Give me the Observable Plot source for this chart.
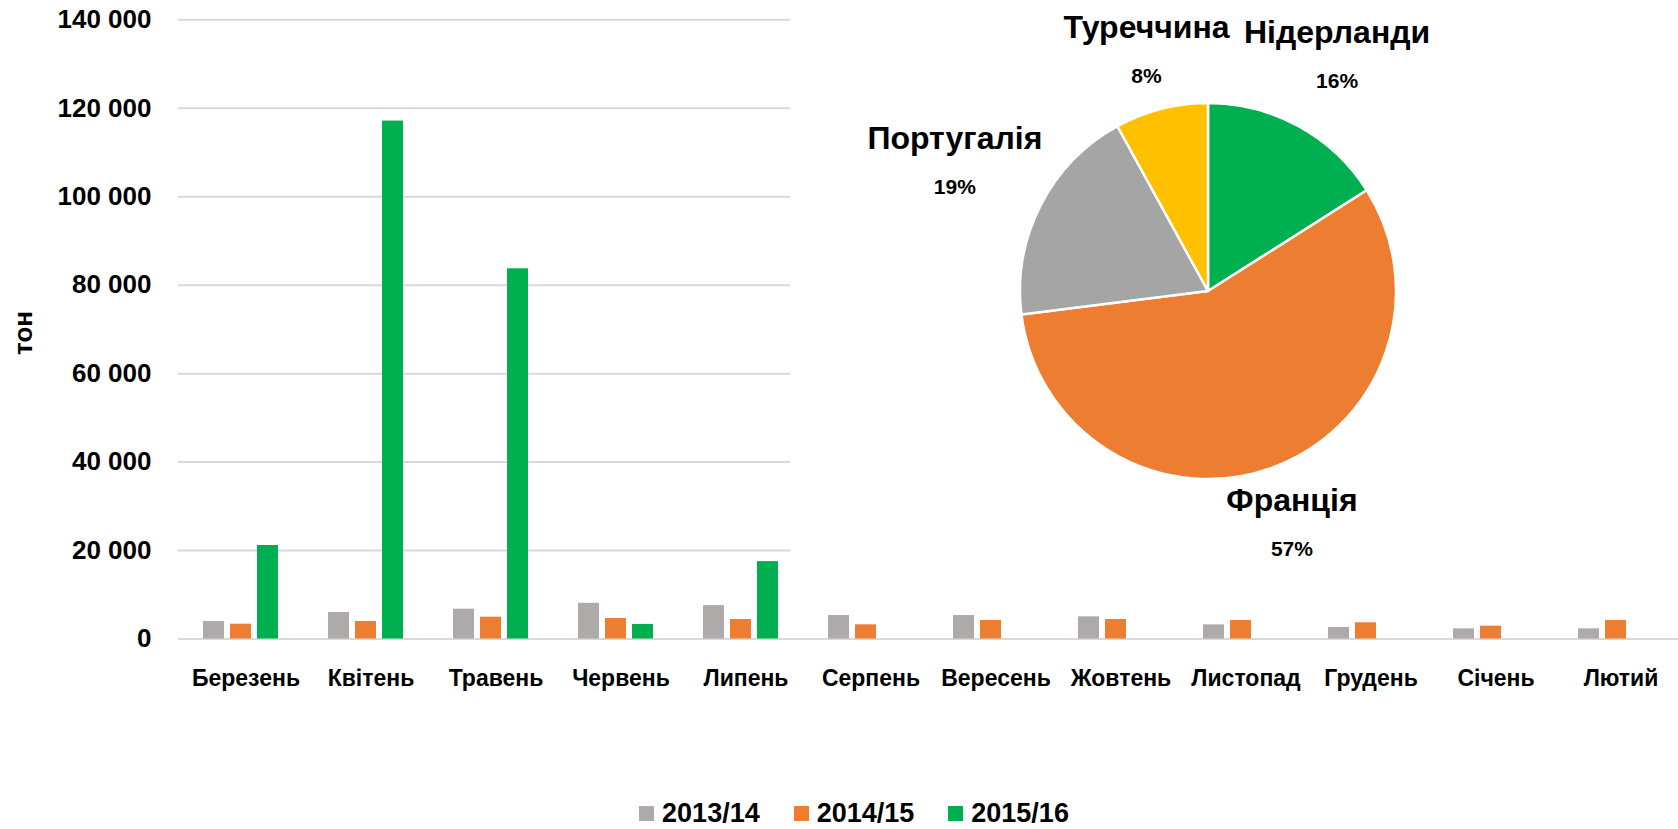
<!DOCTYPE html>
<html><head><meta charset="utf-8">
<script src="https://cdn.jsdelivr.net/npm/d3@7"></script>
<script src="https://cdn.jsdelivr.net/npm/@observablehq/plot@0.6"></script>
<style>
html,body{margin:0;padding:0;background:#fff;}
#wrap{position:relative;width:1678px;height:829px;overflow:hidden;font-family:"Liberation Sans",Arial,sans-serif;font-weight:bold;}
#pie{position:absolute;left:0;top:0;}
#legend{display:flex;justify-content:center;align-items:center;height:31px;font-size:27px;color:#000;padding-left:30px;}
.item{display:flex;align-items:center;margin:0 17px;}
.sw{width:15px;height:15px;margin-right:8px;}
</style></head><body><div id="wrap"></div>
<script>
const months = ["Березень","Квітень","Травень","Червень","Липень","Серпень","Вересень","Жовтень","Листопад","Грудень","Січень","Лютий"];
const series = ["2013/14","2014/15","2015/16"];
const v2013 = [3960, 5990, 6740, 8070, 7550, 5310, 5310, 5010, 3200, 2600, 2300, 2300];
const v2014 = [3350, 3960, 4930, 4620, 4400, 3200, 4180, 4400, 4180, 3660, 2900, 4180];
const v2015 = [21140, 117100, 83700, 3300, 17500];
const yTicks = [0, 20000, 40000, 60000, 80000, 100000, 120000, 140000];
const yLabel = "тон";
const countries = ["Нідерланди","Франція","Португалія","Туреччина"];
const shares = [16, 57, 19, 8];
const barColors = ["#AEAAAA","#ED7D31","#00B050"];
const pieColors = ["#00B050","#ED7D31","#A5A5A5","#FFC000"];

const rows = [];
[v2013, v2014, v2015].forEach((vals, i) => vals.forEach((v, j) => {
  if (v != null) rows.push({month: months[j], series: series[i], value: v});
}));

const fmt = d => d3.format(",")(d).replace(/,/g, " ");
const FONT = "'Liberation Sans', Arial, sans-serif";

const chart = Plot.plot({
  width: 1678, height: 798,
  marginLeft: 178, marginRight: 0, marginTop: 19.3, marginBottom: 159.5,
  style: {fontFamily: FONT, fontWeight: "bold", fontSize: "23px", color: "#000", background: "#fff", overflow: "visible"},
  fx: {domain: months, padding: 0, label: null, tickSize: 0, tickPadding: 31, axis: "bottom"},
  x: {domain: series, paddingInner: 0.217, paddingOuter: 0.865, axis: null},
  y: {domain: [0, 140000], ticks: yTicks, tickFormat: fmt, tickSize: 0, tickPadding: 27, label: null},
  color: {domain: series, range: barColors},
  marks: [
    Plot.ruleY(yTicks, {stroke: "#D9D9D9", strokeWidth: 2}),
    Plot.barY(rows, {fx: "month", x: "series", y: "value", fill: "series"})
  ]
});

const wrap = document.getElementById("wrap");
wrap.appendChild(chart);
const svg = d3.select(chart.tagName.toLowerCase() === "svg" ? chart : chart.querySelector("svg"));
svg.selectAll('g[aria-label^="y-axis"]').attr("font-size", 26);
svg.selectAll('g[aria-label^="y-axis"] text').attr("font-size", 26);
svg.selectAll('g[aria-label^="fx-axis"] text').attr("dx", 5);

// y axis title
svg.append("text")
  .attr("transform", "translate(23,333) rotate(-90)")
  .attr("text-anchor", "middle").attr("dominant-baseline", "central")
  .attr("font-size", 26).attr("font-weight", "bold").attr("font-family", FONT)
  .text(yLabel);

// legend below
const colorScale = chart.scale("color");
const legend = d3.select(wrap).append("div").attr("id", "legend");
colorScale.domain.forEach((s, i) => {
  const it = legend.append("div").attr("class", "item");
  it.append("div").attr("class", "sw").style("background", colorScale.range[i]);
  it.append("span").text(s);
});

// pie overlay
const ps = d3.select(wrap).append("svg").attr("id", "pie")
  .attr("width", 1678).attr("height", 600)
  .style("font-family", FONT).style("font-weight", "bold");
ps.append("rect").attr("x", 790).attr("y", 0).attr("width", 888).attr("height", 590).attr("fill", "#fff");
const cx = 1208, cy = 291, r = 188;
const g = ps.append("g").attr("transform", `translate(${cx},${cy})`);
const arcs = d3.pie().sort(null).value(d => d)(shares);
const arc = d3.arc().innerRadius(0).outerRadius(r);
g.selectAll("path").data(arcs).join("path")
  .attr("d", arc).attr("fill", (d, i) => pieColors[i])
  .attr("stroke", "#fff").attr("stroke-width", 2.5).attr("stroke-linejoin", "round");

// outside-end labels
arcs.forEach((a, i) => {
  const mid = (a.startAngle + a.endAngle) / 2;
  const ux = Math.sin(mid), uy = -Math.cos(mid);
  const lg = g.append("g");
  const name = lg.append("text").attr("text-anchor", "middle").attr("dominant-baseline", "central")
    .attr("font-size", 32).text(countries[i]);
  const pct = lg.append("text").attr("text-anchor", "middle").attr("dominant-baseline", "central")
    .attr("font-size", 21).text(d3.format(".0%")(a.value / d3.sum(shares)));
  const w = Math.max(name.node().getComputedTextLength(), pct.node().getComputedTextLength());
  const h = 80;
  const ext = Math.abs(ux) * w / 2 + Math.abs(uy) * h / 2;
  const d = r + ext;
  const bx = ux * d, by = uy * d;
  name.attr("x", bx).attr("y", by - 24);
  pct.attr("x", bx).attr("y", by + 24);
});
</script>
</body></html>
